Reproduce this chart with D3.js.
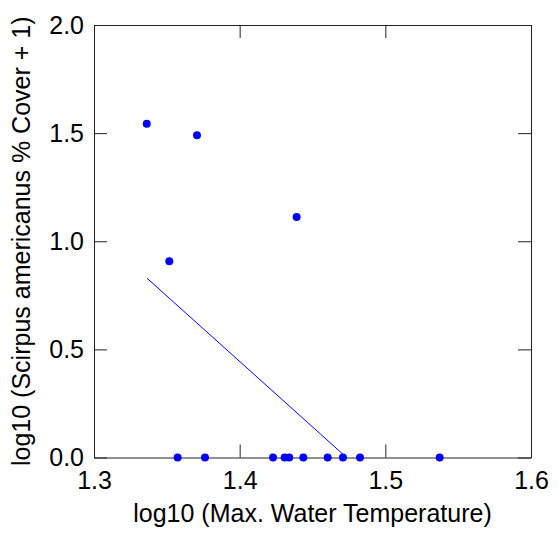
<!DOCTYPE html>
<html>
<head>
<meta charset="utf-8">
<script src="https://cdn.jsdelivr.net/npm/d3@7"></script>
<style>
  body { margin: 0; background: #fff; }
  svg text { font-family: "Liberation Sans", Arial, sans-serif; }
</style>
</head>
<body>
<div id="chart"></div>
<script>
// ====== Data ======
const waterTemp = [1.3362, 1.3707, 1.4391, 1.3517,
  1.3574, 1.3762, 1.4229, 1.4309, 1.4340, 1.4437, 1.4604, 1.4709, 1.4826, 1.5373]
const scirpusCover = [1.543, 1.490, 1.112, 0.907,
  0, 0, 0, 0, 0, 0, 0, 0, 0, 0]
// fitted regression line (end points)
const fitX = [1.3364, 1.4734]
const fitY = [0.829, 0]

const xTicks = [1.3, 1.4, 1.5, 1.6]
const yTicks = [0, 0.5, 1.0, 1.5, 2.0]
const xLabel = "log10 (Max. Water Temperature)"
const yLabel = "log10 (Scirpus americanus % Cover + 1)"

// ====== Layout ======
const width = 559, height = 534
const margin = {top: 25, right: 28, bottom: 76.5, left: 94}
const innerW = width - margin.left - margin.right
const innerH = height - margin.top - margin.bottom
const blue = "#0000ff"
const fontSize = "25px"

const x = d3.scaleLinear().domain([1.3, 1.6]).range([0, innerW])
const y = d3.scaleLinear().domain([0, 2]).range([innerH, 0])

const svg = d3.select("#chart").append("svg")
  .attr("width", width).attr("height", height)

const g = svg.append("g").attr("transform", `translate(${margin.left},${margin.top})`)

svg.append("defs").append("clipPath").attr("id", "clip")
  .append("rect").attr("width", innerW).attr("height", innerH)

// axes, ticks pointing inward
const styleAxis = sel => {
  sel.selectAll("path.domain").attr("stroke", "#222")
  sel.selectAll(".tick line").attr("stroke", "#222")
  sel.selectAll(".tick text").attr("fill", "#000").style("font-size", fontSize)
}

g.append("g")
  .attr("transform", `translate(0,${innerH})`)
  .call(d3.axisBottom(x).tickValues(xTicks).tickFormat(d3.format(".1f"))
    .tickSizeInner(-13).tickSizeOuter(0).tickPadding(14))
  .call(styleAxis)

g.append("g")
  .call(d3.axisLeft(y).tickValues(yTicks).tickFormat(d3.format(".1f"))
    .tickSizeInner(-13).tickSizeOuter(0).tickPadding(10))
  .call(styleAxis)

g.append("g")
  .call(d3.axisTop(x).tickValues(xTicks).tickFormat("")
    .tickSizeInner(-13).tickSizeOuter(0))
  .call(styleAxis)

g.append("g")
  .attr("transform", `translate(${innerW},0)`)
  .call(d3.axisRight(y).tickValues(yTicks).tickFormat("")
    .tickSizeInner(-13).tickSizeOuter(0))
  .call(styleAxis)

// regression line
const fit = fitX.map((d, i) => ({x: d, y: fitY[i]}))
g.append("path")
  .datum(fit)
  .attr("clip-path", "url(#clip)")
  .attr("fill", "none")
  .attr("stroke", blue)
  .attr("stroke-width", 1)
  .attr("d", d3.line().x(d => x(d.x)).y(d => y(d.y)))

// points
g.append("g").selectAll("circle")
  .data(waterTemp.map((d, i) => ({x: d, y: scirpusCover[i]})))
  .join("circle")
  .attr("cx", d => x(d.x))
  .attr("cy", d => y(d.y))
  .attr("r", 4)
  .attr("fill", blue)

// axis titles
svg.append("text")
  .attr("x", margin.left + innerW / 2)
  .attr("y", 522)
  .attr("text-anchor", "middle")
  .style("font-size", fontSize)
  .text(xLabel)

svg.append("text")
  .attr("transform", `translate(30,${margin.top + innerH / 2}) rotate(-90)`)
  .attr("text-anchor", "middle")
  .style("font-size", fontSize)
  .text(yLabel)
</script>
</body>
</html>
